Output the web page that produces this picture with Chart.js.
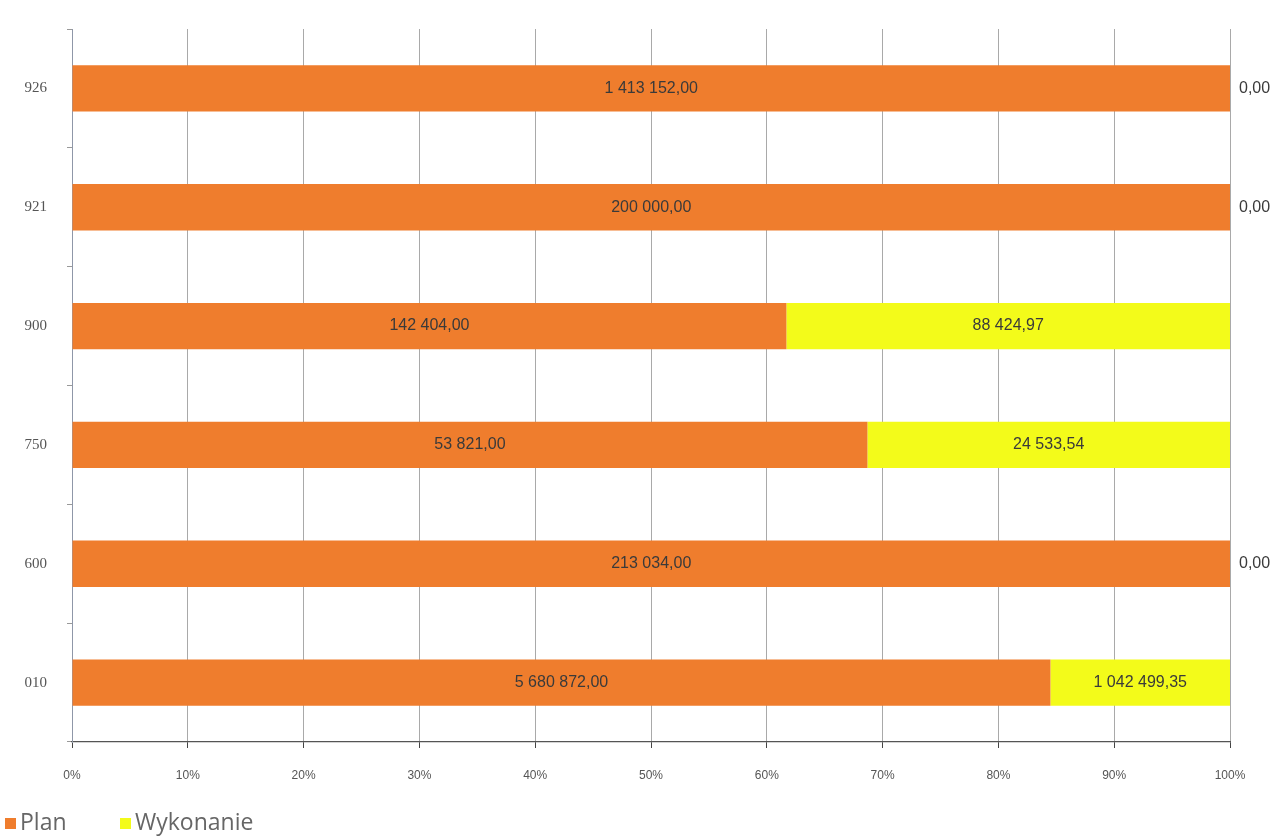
<!DOCTYPE html>
<html lang="pl">
<head>
<meta charset="utf-8">
<title>Plan i wykonanie według działów</title>
<script src="https://cdn.jsdelivr.net/npm/chart.js@4/dist/chart.umd.min.js"></script>
<style>
  html, body { margin: 0; padding: 0; background: #fff; }
  #wrap { position: relative; width: 1285px; height: 836px; }
</style>
</head>
<body>
<div id="wrap"><canvas id="chart" width="1285" height="836"></canvas></div>
<script>
// Działy budżetu (od dołu do góry)
const categories = ['010', '600', '750', '900', '921', '926'];
// Kwoty planu
const planValues = [5680872.00, 213034.00, 53821.00, 142404.00, 200000.00, 1413152.00];
// Kwoty wykonania
const executionValues = [1042499.35, 0.00, 24533.54, 88424.97, 0.00, 0.00];
// Podpisy osi procentowej
const percentTicks = ['0%', '10%', '20%', '30%', '40%', '50%', '60%', '70%', '80%', '90%', '100%'];

const seriesNames = ['Plan', 'Wykonanie'];
const seriesColors = ['#EF7D2D', '#F3FB1A'];

// Udział procentowy każdej serii w sumie danego działu (wykres 100%)
const totals = categories.map((_, i) => planValues[i] + executionValues[i]);
const planShare = planValues.map((v, i) => v / totals[i] * 100);
const execShare = executionValues.map((v, i) => v / totals[i] * 100);
const rawValues = [planValues, executionValues];

// Format liczby w stylu polskim: "1 413 152,00"
function formatPl(v) {
  const parts = v.toFixed(2).split('.');
  const intPart = parts[0].replace(/\B(?=(\d{3})+(?!\d))/g, ' ');
  return intPart + ',' + parts[1];
}

// Etykiety z kwotami na słupkach
const valueLabels = {
  id: 'valueLabels',
  afterDatasetsDraw(chart) {
    const ctx = chart.ctx;
    ctx.save();
    ctx.font = '16px "Liberation Sans", Arial, sans-serif';
    ctx.fillStyle = '#3a3a3a';
    ctx.textBaseline = 'middle';
    chart.data.datasets.forEach((ds, di) => {
      const meta = chart.getDatasetMeta(di);
      meta.data.forEach((bar, i) => {
        const raw = rawValues[di][i];
        const text = formatPl(raw);
        if (raw === 0) {
          ctx.textAlign = 'left';
          ctx.fillText(text, bar.x + 9, bar.y);
        } else {
          ctx.textAlign = 'center';
          ctx.fillText(text, (bar.x + bar.base) / 2, bar.y);
        }
      });
    });
    ctx.restore();
  }
};

// Legenda w lewym dolnym rogu
const bottomLegend = {
  id: 'bottomLegend',
  afterDraw(chart) {
    const ctx = chart.ctx;
    ctx.save();
    ctx.font = '23px "Open Sans", sans-serif';
    ctx.textBaseline = 'alphabetic';
    ctx.textAlign = 'left';
    const baseline = 830;
    const starts = [5, 120];
    seriesNames.forEach((name, i) => {
      const x = starts[i];
      ctx.fillStyle = seriesColors[i];
      ctx.fillRect(x, baseline - 12, 11, 11);
      ctx.fillStyle = '#666';
      ctx.fillText(name, x + 15, baseline);
    });
    ctx.restore();
  }
};

new Chart(document.getElementById('chart'), {
  type: 'bar',
  data: {
    labels: categories,
    datasets: [
      { label: seriesNames[0], data: planShare, backgroundColor: seriesColors[0] },
      { label: seriesNames[1], data: execShare, backgroundColor: seriesColors[1] }
    ]
  },
  options: {
    indexAxis: 'y',
    responsive: false,
    animation: false,
    layout: { padding: { left: 0, right: 55, top: 25, bottom: 34 } },
    datasets: { bar: { categoryPercentage: 1, barPercentage: 0.39 } },
    plugins: {
      legend: { display: false },
      tooltip: { enabled: false }
    },
    scales: {
      x: {
        stacked: true,
        min: 0,
        max: 100,
        ticks: {
          stepSize: 10,
          padding: 20,
          color: '#555',
          font: { family: '"Liberation Sans", Arial, sans-serif', size: 12 },
          callback: (v, i) => percentTicks[i]
        },
        grid: { color: '#a9a9a9', lineWidth: 1, tickLength: 6, tickColor: '#444' },
        border: { color: '#555', width: 1.2 },
        afterFit(scale) { scale.height = 60; }
      },
      y: {
        stacked: true,
        reverse: true,
        ticks: {
          padding: 20,
          color: '#555',
          font: { family: '"Liberation Serif", serif', size: 15 }
        },
        grid: { offset: true, drawOnChartArea: false, tickLength: 5, tickColor: '#999' },
        border: { color: '#8f97a8', width: 1 },
        afterFit(scale) { scale.width = 72; }
      }
    }
  },
  plugins: [valueLabels, bottomLegend]
});
</script>
</body>
</html>
